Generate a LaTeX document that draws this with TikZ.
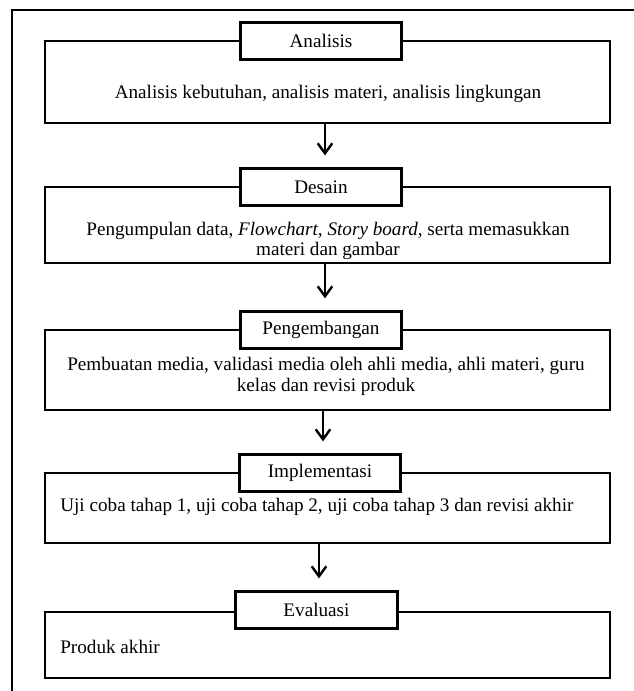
\documentclass[tikz,border=0pt]{standalone}
\usepackage{fontspec}
\setmainfont{Liberation Serif}
\usetikzlibrary{arrows.meta,positioning}

\begin{document}
\begin{tikzpicture}[x=0.022cm, y=-0.022cm,
    every node/.style={font=\fontsize{12}{13}\selectfont},
    phase/.style={draw, line width=1.4pt, rectangle, inner sep=0pt, minimum width=12.43cm},
    phasetitle/.style={draw, line width=1.8pt, rectangle, fill=white, inner sep=0pt, minimum width=3.56cm, minimum height=0.81cm},
    phasetext/.style={align=center, inner sep=0pt},
    flow/.style={line width=1.5pt, -{Straight Barb[length=2.2mm,width=3.2mm,line width=1.5pt]}, shorten >=2.6mm}]
  \useasboundingbox (0,0) rectangle (634,691);
  % outer frame, cut off at the right and bottom
  \coordinate (framebl) at (12,700);
  \coordinate (frametr) at (645,10);
  \draw[line width=1.4pt] (framebl) |- (frametr);

  % main phase boxes
  \node[phase, minimum height=1.80cm] (ana) at (327.5,82) {};
  \node[phase, minimum height=1.67cm] (des) at (327.5,225) {};
  \node[phase, minimum height=1.76cm] (pen) at (327.5,370) {};
  \node[phase, minimum height=1.54cm] (imp) at (327.5,508) {};
  \node[phase, minimum height=1.45cm] (eva) at (327.5,645) {};

  % titles on the top edges
  \node[phasetitle] (anatitle) at (321,41) {Analisis};
  \node[phasetitle] (destitle) at (321,187) {Desain};
  \node[phasetitle] (pentitle) at (321,330) {Pengembangan};
  \node[phasetitle] (imptitle) at (320,473) {Implementasi};
  \node[phasetitle] (evatitle) at (316.5,610) {Evaluasi};

  % contents
  \node[phasetext] (anatext) at (328,94) {Analisis kebutuhan, analisis materi, analisis lingkungan};
  \node[phasetext] (destext) at (328,241) {Pengumpulan data, \textit{Flowchart, Story board,} serta memasukkan\\materi dan gambar};
  \node[phasetext] (pentext) at (326,376) {Pembuatan media, validasi media oleh ahli media, ahli materi, guru\\kelas dan revisi produk};
  \node[phasetext, anchor=west] (imptext) at (60,507) {Uji coba tahap 1, uji coba tahap 2, uji coba tahap 3 dan revisi akhir};
  \node[phasetext, anchor=west] (evatext) at (60,647) {Produk akhir};

  % arrows between phases
  \draw[flow] (325,0 |- ana.south) -- (325,0 |- destitle.north);
  \draw[flow] (325,0 |- des.south) -- (325,0 |- pentitle.north);
  \draw[flow] (323,0 |- pen.south) -- (323,0 |- imptitle.north);
  \draw[flow] (319,0 |- imp.south) -- (319,0 |- evatitle.north);
\end{tikzpicture}
\end{document}
